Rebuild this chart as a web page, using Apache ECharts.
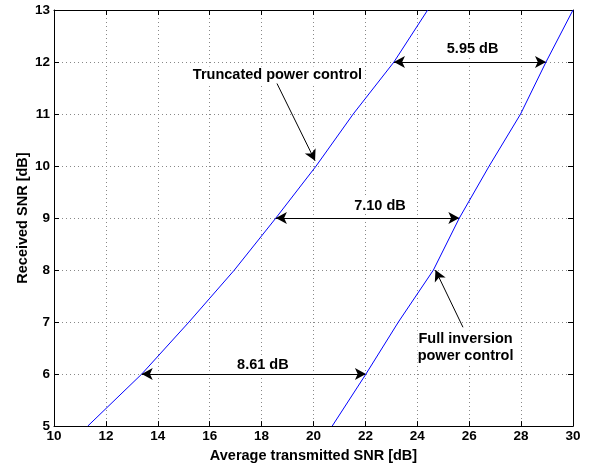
<!DOCTYPE html>
<html>
<head>
<meta charset="utf-8">
<script src="https://cdn.jsdelivr.net/npm/echarts@6/dist/echarts.min.js"></script>
<style>
  html, body { margin: 0; padding: 0; background: #fff; }
  #chart { width: 596px; height: 468px; }
</style>
</head>
<body>
<div id="chart"></div>
<script>
// received SNR levels (y) and the transmitted SNR needed for each curve (x)
const rxSnr = [5, 6, 7, 8, 9, 10, 11, 12, 13];
const truncatedX = [11.30, 13.38, 15.20, 16.95, 18.55, 20.10, 21.53, 23.10, 24.40];
const fullInvX = [20.72, 22.02, 23.27, 24.62, 25.62, 26.77, 27.98, 28.96, 30.00];

// gap annotations between the two curves
const gapLevels = [6, 9, 12];
const gapLabels = ['8.61 dB', '7.10 dB', '5.95 dB'];

const xTicks = [10, 30, 2];
const yTicks = [5, 13, 1];

const font = 'Liberation Sans, Arial, sans-serif';

const chart = echarts.init(document.getElementById('chart'));

const gapLines = gapLevels.map(y => {
  const i = rxSnr.indexOf(y);
  return [{ coord: [truncatedX[i], y] }, { coord: [fullInvX[i], y] }];
});

// where the gap text sits (data coords)
const gapTextPos = [[18.05, 6.17], [22.56, 9.24], [26.13, 12.25]];

const nameStyle = {
  color: '#000', fontFamily: font, fontWeight: 'bold', fontSize: 14.5
};
const tickLabel = {
  color: '#000', fontFamily: font, fontWeight: 'bold', fontSize: 13.5
};

const option = {
  animation: false,
  grid: { left: 54, right: 23, top: 10, bottom: 41 },
  xAxis: [
    {
      type: 'value', min: xTicks[0], max: xTicks[1], interval: xTicks[2],
      name: 'Average transmitted SNR [dB]', nameLocation: 'middle', nameGap: 19,
      nameTextStyle: nameStyle,
      axisLine: { lineStyle: { color: '#000', width: 1 } },
      axisTick: { inside: true, length: 5, lineStyle: { color: '#000' } },
      axisLabel: Object.assign({ margin: 3 }, tickLabel),
      splitLine: { show: true, lineStyle: { color: '#888', type: [1, 3] } }
    },
    {
      type: 'value', position: 'top', min: xTicks[0], max: xTicks[1], interval: xTicks[2],
      axisLine: { lineStyle: { color: '#000', width: 1 } },
      axisTick: { inside: true, length: 5, lineStyle: { color: '#000' } },
      axisLabel: { show: false },
      splitLine: { show: false }
    }
  ],
  yAxis: [
    {
      type: 'value', min: yTicks[0], max: yTicks[1], interval: yTicks[2],
      name: 'Received SNR [dB]', nameLocation: 'middle', nameGap: 24,
      nameMoveOverlap: false,
      nameTextStyle: nameStyle,
      axisLine: { lineStyle: { color: '#000', width: 1 } },
      axisTick: { inside: true, length: 5, lineStyle: { color: '#000' } },
      axisLabel: Object.assign({ margin: 4 }, tickLabel),
      splitLine: { show: true, lineStyle: { color: '#888', type: [1, 3] } }
    },
    {
      type: 'value', position: 'right', min: yTicks[0], max: yTicks[1], interval: yTicks[2],
      axisLine: { lineStyle: { color: '#000', width: 1 } },
      axisTick: { inside: true, length: 5, lineStyle: { color: '#000' } },
      axisLabel: { show: false },
      splitLine: { show: false }
    }
  ],
  series: [
    {
      name: 'Truncated power control',
      type: 'line',
      data: truncatedX.map((x, i) => [x, rxSnr[i]]),
      showSymbol: false,
      lineStyle: { color: '#0000ff', width: 1 },
      z: 3,
      markPoint: {
        silent: true,
        symbol: 'circle',
        symbolSize: 1,
        itemStyle: { color: 'rgba(0,0,0,0)' },
        label: {
          show: true, position: 'inside',
          color: '#000', fontFamily: font, fontWeight: 'bold', fontSize: 14.5, lineHeight: 17
        },
        data: [
          ...gapTextPos.map((p, i) => ({
            coord: p, value: gapLabels[i],
            label: { formatter: gapLabels[i], backgroundColor: '#fff', padding: [0, 3] }
          })),
          { coord: [18.61, 11.75], label: { formatter: 'Truncated power control', backgroundColor: '#fff' } },
          { coord: [25.86, 6.51], label: { formatter: 'Full inversion\npower control', backgroundColor: '#fff' } }
        ]
      }
    },
    {
      name: 'Full inversion power control',
      type: 'line',
      data: fullInvX.map((x, i) => [x, rxSnr[i]]),
      showSymbol: false,
      lineStyle: { color: '#0000ff', width: 1 },
      z: 5,
      // arrows drawn above the text boxes
      markLine: {
        silent: true,
        symbolSize: [9, 11],
        label: { show: false },
        lineStyle: { color: '#000', width: 1, type: 'solid' },
        data: [
          ...gapLines.map(l => [
            Object.assign({ symbol: 'arrow' }, l[0]),
            Object.assign({ symbol: 'arrow' }, l[1])
          ]),
          [{ coord: [18.58, 11.6], symbol: 'none' }, { coord: [20.06, 10.1], symbol: 'arrow' }],
          [{ coord: [25.76, 6.9], symbol: 'none' }, { coord: [24.7, 8.0], symbol: 'arrow' }]
        ]
      }
    }
  ]
};

chart.setOption(option);
window.addEventListener('resize', () => chart.resize());
</script>
</body>
</html>
